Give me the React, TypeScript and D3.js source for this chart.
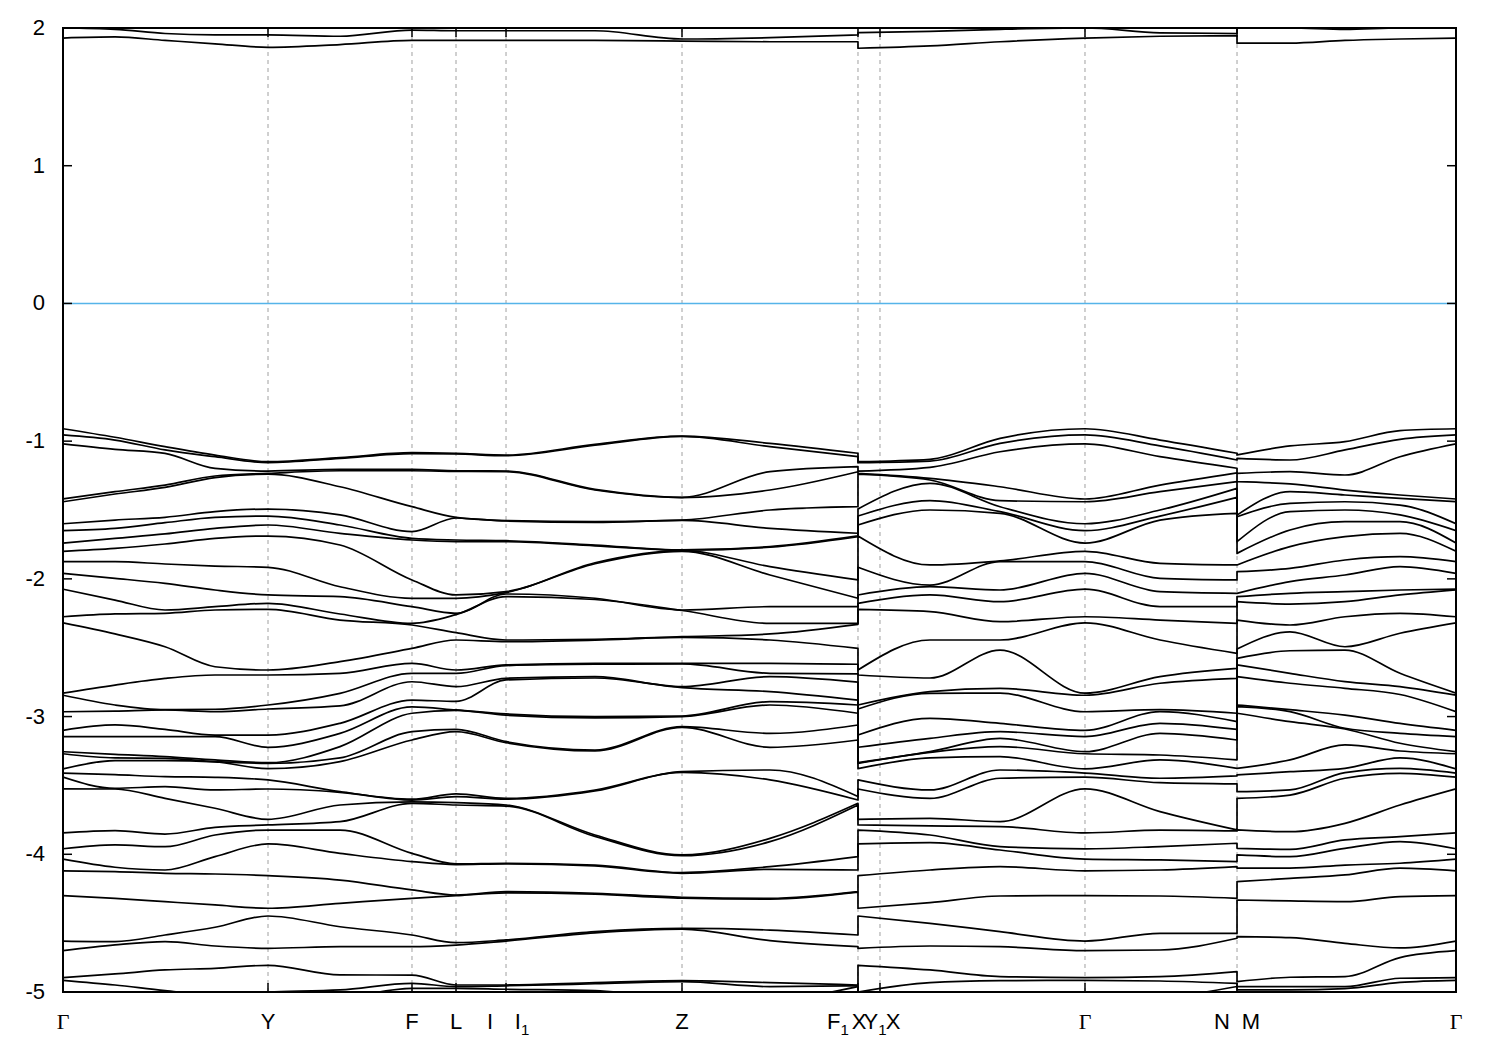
import React from 'react';
import * as d3 from 'd3';

// ---- data: band energies (eV) at each k-column, sorted from top to bottom ----
const eGamma = [2.0, 1.927, -0.91, -0.955, -1.02, -1.42, -1.44, -1.60, -1.65, -1.74, -1.80, -1.875, -1.96, -2.075, -2.275, -2.32, -2.83, -2.845, -2.965, -3.10, -3.145, -3.255, -3.27, -3.38, -3.41, -3.44, -3.525, -3.845, -3.96, -4.035, -4.12, -4.30, -4.63, -4.70, -4.895, -4.915, -5.1, -5.2];
const eGY1 = [1.99, 1.935, -0.972, -0.992, -1.06, -1.367, -1.384, -1.573, -1.633, -1.706, -1.779, -1.875, -1.996, -2.154, -2.255, -2.40, -2.771, -2.916, -2.96, -3.061, -3.146, -3.274, -3.30, -3.320, -3.422, -3.521, -3.526, -3.828, -3.932, -4.094, -4.126, -4.32, -4.634, -4.658, -4.869, -4.949, -5.1, -5.2];
const eGY2 = [1.96, 1.91, -1.04, -1.064, -1.089, -1.319, -1.336, -1.553, -1.592, -1.674, -1.747, -1.892, -2.033, -2.226, -2.25, -2.493, -2.723, -2.95, -2.952, -3.093, -3.146, -3.291, -3.303, -3.32, -3.436, -3.509, -3.594, -3.853, -3.945, -4.114, -4.138, -4.344, -4.586, -4.634, -4.84, -4.99, -5.1, -5.2];
const eGY3 = [1.95, 1.885, -1.101, -1.113, -1.198, -1.253, -1.265, -1.512, -1.553, -1.633, -1.706, -1.907, -2.081, -2.202, -2.226, -2.638, -2.698, -2.947, -2.964, -3.134, -3.146, -3.315, -3.327, -3.33, -3.441, -3.533, -3.666, -3.804, -3.860, -4.017, -4.143, -4.368, -4.53, -4.666, -4.828, -5.02, -5.1, -5.2];
const eY = [1.95, 1.86, -1.149, -1.156, -1.217, -1.234, -1.24, -1.493, -1.544, -1.609, -1.689, -1.916, -2.117, -2.178, -2.222, -2.662, -2.698, -2.916, -2.945, -3.134, -3.223, -3.335, -3.34, -3.378, -3.460, -3.526, -3.746, -3.787, -3.824, -3.925, -4.155, -4.392, -4.448, -4.683, -4.806, -5.0, -5.1, -5.2];
const eYF = [1.94, 1.88, -1.120, -1.125, -1.205, -1.215, -1.331, -1.536, -1.609, -1.670, -1.754, -2.057, -2.129, -2.255, -2.299, -2.601, -2.686, -2.831, -2.923, -3.049, -3.122, -3.218, -3.30, -3.327, -3.545, -3.55, -3.642, -3.763, -3.824, -3.993, -4.187, -4.356, -4.526, -4.671, -4.876, -4.985, -5.05, -5.1];
const eF = [1.985, 1.91, -1.084, -1.090, -1.205, -1.215, -1.476, -1.657, -1.706, -1.718, -2.008, -2.141, -2.202, -2.323, -2.335, -2.505, -2.614, -2.686, -2.747, -2.880, -2.930, -2.976, -3.110, -3.170, -3.600, -3.606, -3.620, -3.630, -3.993, -4.053, -4.259, -4.32, -4.586, -4.671, -4.877, -4.937, -4.973, -5.05];
const eL = [1.98, 1.91, -1.089, -1.093, -1.215, -1.219, -1.553, -1.558, -1.718, -1.730, -2.117, -2.141, -2.250, -2.26, -2.391, -2.444, -2.662, -2.686, -2.783, -2.890, -2.952, -2.955, -3.093, -3.110, -3.562, -3.581, -3.625, -3.642, -4.070, -4.075, -4.296, -4.30, -4.642, -4.659, -4.949, -4.961, -4.973, -5.05];
const eI = [1.98, 1.91, -1.101, -1.106, -1.217, -1.222, -1.577, -1.58, -1.723, -1.73, -2.093, -2.100, -2.11, -2.129, -2.444, -2.456, -2.625, -2.63, -2.722, -2.734, -2.981, -2.99, -3.182, -3.19, -3.594, -3.60, -3.642, -3.65, -4.065, -4.07, -4.271, -4.28, -4.622, -4.63, -4.949, -4.955, -4.98, -5.05];
const eI1Z = [1.98, 1.91, -1.023, -1.03, -1.35, -1.355, -1.585, -1.59, -1.754, -1.76, -1.883, -1.89, -2.141, -2.15, -2.439, -2.445, -2.613, -2.62, -2.71, -2.72, -3.001, -3.01, -3.243, -3.25, -3.533, -3.54, -3.86, -3.87, -4.078, -4.085, -4.283, -4.29, -4.562, -4.57, -4.932, -4.94, -4.99, -5.1];
const eZ = [1.92, 1.905, -0.963, -0.966, -1.408, -1.41, -1.573, -1.576, -1.79, -1.791, -1.795, -1.80, -2.226, -2.23, -2.420, -2.425, -2.613, -2.618, -2.783, -2.79, -2.996, -3.0, -3.073, -3.078, -3.400, -3.405, -4.005, -4.01, -4.133, -4.138, -4.312, -4.318, -4.538, -4.543, -4.918, -4.925, -5.05, -5.1];
const eZF1 = [1.93, 1.90, -1.016, -1.040, -1.222, -1.355, -1.500, -1.633, -1.766, -1.77, -1.911, -1.972, -2.202, -2.323, -2.40, -2.444, -2.613, -2.686, -2.710, -2.819, -2.892, -2.916, -3.122, -3.223, -3.388, -3.460, -3.884, -3.908, -4.090, -4.109, -4.320, -4.325, -4.550, -4.627, -4.932, -4.961, -5.05, -5.1];
const eF1 = [1.95, 1.90, -1.088, -1.113, -1.185, -1.222, -1.476, -1.669, -1.688, -1.694, -2.008, -2.141, -2.202, -2.323, -2.33, -2.505, -2.62, -2.69, -2.75, -2.880, -2.916, -2.976, -3.061, -3.170, -3.581, -3.606, -3.630, -3.642, -4.017, -4.114, -4.271, -4.275, -4.586, -4.671, -4.949, -4.955, -4.961, -5.05];
const eX = [1.966, 1.853, -1.149, -1.156, -1.217, -1.234, -1.24, -1.493, -1.544, -1.609, -1.689, -1.916, -2.117, -2.178, -2.222, -2.662, -2.698, -2.916, -2.945, -3.134, -3.223, -3.335, -3.34, -3.378, -3.460, -3.526, -3.746, -3.787, -3.824, -3.925, -4.155, -4.392, -4.448, -4.683, -4.806, -5.0, -5.1, -5.2];
const eXG1 = [1.975, 1.87, -1.132, -1.145, -1.19, -1.27, -1.282, -1.306, -1.432, -1.5, -1.899, -2.045, -2.057, -2.117, -2.238, -2.444, -2.72, -2.819, -2.831, -3.013, -3.158, -3.255, -3.26, -3.30, -3.533, -3.594, -3.739, -3.794, -3.860, -3.916, -4.114, -4.351, -4.501, -4.666, -4.840, -4.932, -5.05, -5.1];
const eXG2 = [1.99, 1.90, -0.98, -1.016, -1.077, -1.331, -1.432, -1.476, -1.512, -1.524, -1.870, -1.875, -2.081, -2.166, -2.311, -2.444, -2.517, -2.795, -2.83, -3.049, -3.110, -3.158, -3.218, -3.291, -3.388, -3.448, -3.763, -3.799, -3.944, -3.969, -4.090, -4.303, -4.562, -4.671, -4.888, -4.918, -5.05, -5.1];
const eGN = [1.965, 1.94, -0.992, -1.035, -1.113, -1.319, -1.367, -1.500, -1.544, -1.573, -1.887, -1.996, -2.093, -2.202, -2.299, -2.444, -2.710, -2.758, -2.95, -2.964, -3.049, -3.122, -3.279, -3.315, -3.448, -3.48, -3.69, -3.824, -3.944, -4.041, -4.114, -4.303, -4.574, -4.695, -4.888, -4.92, -5.05, -5.1];
const eN = [1.96, 1.945, -1.088, -1.137, -1.197, -1.23, -1.294, -1.343, -1.408, -1.524, -1.899, -2.008, -2.105, -2.202, -2.323, -2.541, -2.650, -2.722, -2.976, -3.037, -3.093, -3.170, -3.315, -3.376, -3.431, -3.489, -3.823, -3.83, -3.920, -4.053, -4.090, -4.320, -4.574, -4.610, -4.852, -4.937, -4.96, -5.05];
const eM = [2.0, 1.89, -1.10, -1.125, -1.234, -1.294, -1.537, -1.549, -1.730, -1.815, -1.899, -1.948, -2.105, -2.129, -2.166, -2.299, -2.51, -2.577, -2.625, -2.710, -2.916, -2.928, -2.976, -3.376, -3.424, -3.545, -3.594, -3.823, -3.957, -4.005, -4.10, -4.199, -4.332, -4.598, -4.925, -4.961, -4.985, -5.05];
const eMG1 = [2.0, 1.89, -1.035, -1.137, -1.222, -1.311, -1.367, -1.452, -1.512, -1.645, -1.766, -1.924, -2.020, -2.105, -2.183, -2.335, -2.385, -2.522, -2.686, -2.758, -2.95, -2.964, -3.037, -3.315, -3.400, -3.533, -3.570, -3.836, -3.964, -4.017, -4.10, -4.175, -4.339, -4.605, -4.893, -4.961, -4.985, -5.05];
const eMG2 = [1.99, 1.91, -1.004, -1.064, -1.246, -1.355, -1.391, -1.440, -1.500, -1.585, -1.694, -1.863, -1.972, -2.093, -2.166, -2.275, -2.493, -2.517, -2.746, -2.795, -2.989, -3.085, -3.09, -3.206, -3.376, -3.407, -3.448, -3.775, -3.896, -3.957, -4.078, -4.15, -4.344, -4.647, -4.888, -4.961, -4.975, -5.05];
const eMG3 = [2.0, 1.92, -0.924, -0.987, -1.113, -1.391, -1.415, -1.464, -1.536, -1.585, -1.670, -1.839, -1.911, -2.081, -2.117, -2.250, -2.395, -2.686, -2.783, -2.84, -3.05, -3.122, -3.194, -3.25, -3.30, -3.376, -3.412, -3.642, -3.872, -3.908, -4.065, -4.101, -4.307, -4.68, -4.75, -4.90, -4.93, -5.05];
const eGammaEnd = [2.0, 1.927, -0.91, -0.955, -1.02, -1.42, -1.44, -1.60, -1.65, -1.74, -1.80, -1.875, -1.96, -2.075, -2.08, -2.275, -2.32, -2.83, -2.845, -2.965, -3.10, -3.145, -3.255, -3.27, -3.38, -3.41, -3.44, -3.525, -3.845, -3.96, -4.035, -4.12, -4.30, -4.63, -4.70, -4.895, -4.915, -5.1];

// k-distance of each column (same order as columns)
const kColumns = [0, 0.1120, 0.2197, 0.3274, 0.4415, 0.5966, 0.7516, 0.8464, 0.9541, 1.1457, 1.3331, 1.5226, 1.7121,
  1.7121, 1.8672, 2.0180, 2.2010, 2.3625, 2.5284,
  2.5284, 2.6425, 2.7609, 2.8794, 3.0];
const columns = [eGamma, eGY1, eGY2, eGY3, eY, eYF, eF, eL, eI, eI1Z, eZ, eZF1, eF1,
  eX, eXG1, eXG2, eGamma, eGN, eN,
  eM, eMG1, eMG2, eMG3, eGammaEnd];
// continuous pieces of the path (index ranges into columns)
const pieces = [[0, 12], [13, 18], [19, 23]];

// high-symmetry gridlines (k)
const gridK = [0.4415, 0.7516, 0.8464, 0.9541, 1.3331, 1.7121, 1.7595, 2.2010, 2.5284];
// tick labels: text, subscript, k
const tickLabels: [string, string, number][] = [
  ['Γ', '', 0], ['Y', '', 0.4415], ['F', '', 0.7516], ['L', '', 0.8464], ['I', '', 0.9196], ['I', '1', 0.9885],
  ['Z', '', 1.3331], ['F', '1', 1.6691], ['X', '', 1.7143], ['Y', '1', 1.7487], ['X', '', 1.7875],
  ['Γ', '', 2.2010], ['N', '', 2.4960], ['M', '', 2.5585], ['Γ', '', 3.0],
];
const yTicks = [2, 1, 0, -1, -2, -3, -4, -5];

export default function App() {
  const L = 63, R = 1456, T = 28, B = 992;
  const x = d3.scaleLinear().domain([0, 3]).range([L, R]);
  const y = d3.scaleLinear().domain([-5, 2]).range([B, T]);
  const line = d3.line<[number, number]>().x(d => x(d[0])).y(d => y(d[1])).curve(d3.curveMonotoneX);
  const nb = d3.min(columns, c => c.length) as number;
  const bandPaths: string[] = [];
  for (let b = 0; b < nb; b++) {
    const d = pieces.map(([s, e], i) => {
      const pts: [number, number][] = d3.range(s, e + 1).map(c => [kColumns[c], columns[c][b]]);
      const p = line(pts) || '';
      return i === 0 ? p : p.replace(/^M/, 'L');
    }).join('');
    bandPaths.push(d);
  }
  const font = '"Liberation Sans", Arial, sans-serif';
  return (
    <svg width={1500} height={1050} style={{ position: 'absolute', left: 0, top: 0, background: '#fff' }}>
      <defs>
        <clipPath id="plotclip"><rect x={L} y={T} width={R - L} height={B - T} /></clipPath>
      </defs>
      <rect x={0} y={0} width={1500} height={1050} fill="#fff" />
      {gridK.map((k, i) => (
        <line key={'g' + i} x1={x(k)} x2={x(k)} y1={T} y2={B} stroke="#a0a0a0" strokeWidth={1} strokeDasharray="4,4" />
      ))}
      <line x1={L} x2={R} y1={y(0)} y2={y(0)} stroke="#56b4e9" strokeWidth={1.6} />
      <g clipPath="url(#plotclip)">
        {bandPaths.map((d, i) => (
          <path key={'b' + i} d={d} fill="none" stroke="#000" strokeWidth={1.7} strokeLinejoin="round" />
        ))}
      </g>
      {yTicks.map(v => (
        <g key={'yt' + v}>
          <line x1={L} x2={L + 9} y1={y(v)} y2={y(v)} stroke="#000" strokeWidth={1.5} />
          <line x1={R - 9} x2={R} y1={y(v)} y2={y(v)} stroke="#000" strokeWidth={1.5} />
          <text x={45} y={y(v) + 7} textAnchor="end" fontFamily={font} fontSize={22} fill="#000">{v}</text>
        </g>
      ))}
      {gridK.map((k, i) => (
        <g key={'xt' + i}>
          <line x1={x(k)} x2={x(k)} y1={B} y2={B - 9} stroke="#000" strokeWidth={1.5} />
          <line x1={x(k)} x2={x(k)} y1={T} y2={T + 9} stroke="#000" strokeWidth={1.5} />
        </g>
      ))}
      <rect x={L} y={T} width={R - L} height={B - T} fill="none" stroke="#000" strokeWidth={2} />
      {tickLabels.map(([t, sub, k], i) => (
        <text key={'xl' + i} x={x(k)} y={1029} textAnchor="middle" fontSize={22} fill="#000"
          fontFamily={t === 'Γ' ? '"Liberation Serif", "DejaVu Serif", serif' : font}>
          {t}{sub ? <tspan fontSize={15} dy={6}>{sub}</tspan> : null}
        </text>
      ))}
    </svg>
  );
}
